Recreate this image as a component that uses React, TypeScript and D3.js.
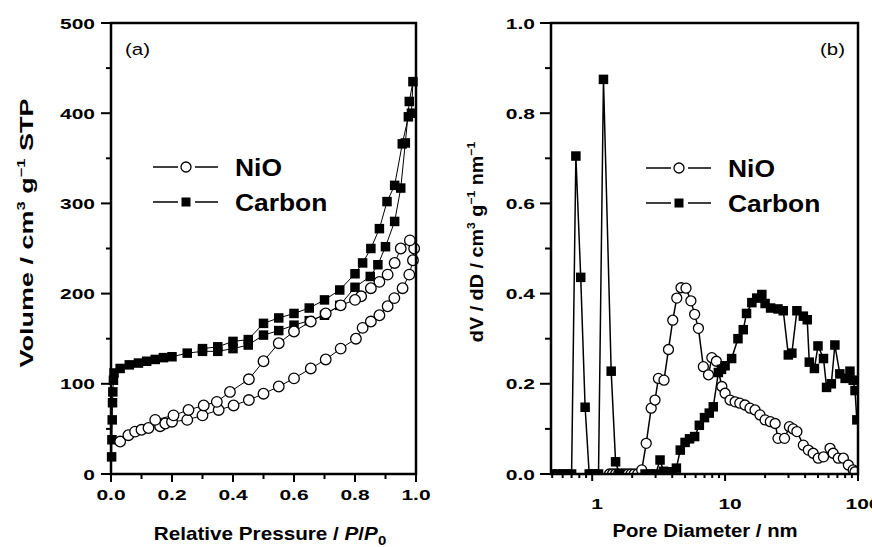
import React from "react";
import * as d3 from "d3";

type Pt = [number, number];

// (a) N2 isotherms: [P/P0, volume]
const nioAdsorption: Pt[] = [
  [0.03, 36], [0.057, 43], [0.079, 47], [0.1, 49], [0.123, 51], [0.161, 53], [0.178, 56],
  [0.2, 58], [0.25, 60], [0.3, 65], [0.353, 71], [0.402, 76], [0.452, 82], [0.5, 89],
  [0.55, 97], [0.6, 106], [0.655, 117], [0.704, 127], [0.753, 139], [0.803, 150],
  [0.825, 162], [0.852, 169], [0.88, 176], [0.907, 186], [0.929, 195], [0.956, 206],
  [0.978, 221], [0.99, 237], [0.994, 250], [0.98, 259],
];
const nioDesorption: Pt[] = [
  [0.95, 250], [0.93, 234], [0.907, 221], [0.88, 213], [0.852, 206], [0.82, 197],
  [0.8, 193], [0.753, 187], [0.704, 178], [0.655, 169], [0.6, 158], [0.55, 145],
  [0.5, 125], [0.452, 105], [0.39, 91], [0.347, 80], [0.304, 76], [0.254, 71],
  [0.205, 65], [0.145, 60],
];
const carbonAdsorption: Pt[] = [
  [0.002, 19], [0.003, 38], [0.004, 60], [0.005, 79], [0.006, 91], [0.008, 104],
  [0.01, 112], [0.03, 117], [0.06, 121], [0.09, 123], [0.117, 125], [0.145, 127],
  [0.172, 129], [0.2, 130], [0.25, 134], [0.3, 136], [0.35, 136], [0.4, 139],
  [0.45, 143], [0.5, 154], [0.55, 159], [0.6, 165], [0.65, 170], [0.7, 176],
  [0.75, 187], [0.8, 207], [0.85, 219], [0.875, 232], [0.9, 252], [0.93, 280],
  [0.95, 317], [0.965, 367], [0.978, 413], [0.99, 435],
];
const carbonDesorption: Pt[] = [
  [0.985, 400], [0.975, 396], [0.955, 366], [0.93, 320], [0.905, 302], [0.88, 272],
  [0.852, 250], [0.825, 234], [0.8, 222], [0.75, 204], [0.7, 193], [0.65, 184],
  [0.6, 178], [0.55, 173], [0.5, 167], [0.45, 149], [0.4, 147], [0.35, 141], [0.3, 139],
];

// (b) pore size distribution: [diameter nm, dV/dD]
const nioPsd: Pt[] = [
  [1.35, 0], [1.42, 0], [1.5, 0], [1.58, 0], [1.67, 0], [1.76, 0], [1.86, 0], [1.96, 0],
  [2.07, 0], [2.2, 0], [2.36, 0.009], [2.55, 0.068], [2.78, 0.146], [2.97, 0.164],
  [3.15, 0.212], [3.47, 0.208], [3.75, 0.276], [4.04, 0.341], [4.33, 0.39], [4.66, 0.413],
  [5.08, 0.412], [5.53, 0.384], [5.9, 0.354], [6.3, 0.323], [6.86, 0.238], [7.5, 0.22],
  [7.95, 0.258], [8.6, 0.25], [9.45, 0.194], [10, 0.179], [10.9, 0.164], [11.9, 0.16],
  [12.9, 0.157], [14.1, 0.153], [15.4, 0.146], [16.8, 0.142], [18.3, 0.131], [20, 0.12],
  [21.9, 0.116], [23.8, 0.112], [25, 0.079], [28, 0.079], [30.5, 0.105], [32.5, 0.1],
  [34.7, 0.094], [38.8, 0.064], [42.3, 0.053], [46, 0.046], [50.2, 0.035], [55, 0.038],
  [61.6, 0.057], [65, 0.046], [71, 0.035], [77.6, 0.035], [84.6, 0.02], [92, 0.009],
  [95, 0.005],
];
const carbonPsd: Pt[] = [
  [0.5, 0], [0.55, 0], [0.6, 0], [0.65, 0], [0.7, 0], [0.754, 0.705], [0.82, 0.436],
  [0.885, 0.148], [0.95, 0], [1.0, 0], [1.05, 0], [1.116, 0], [1.216, 0.875],
  [1.39, 0.228], [1.5, 0.027], [1.6, 0], [2.5, 0], [2.75, 0], [3.0, 0], [3.24, 0.031],
  [3.44, 0.006], [3.7, 0.004], [4.0, 0.005], [4.3, 0.013], [4.6, 0.053], [5.0, 0.07],
  [5.4, 0.078], [5.9, 0.083], [6.4, 0.108], [7.0, 0.125], [7.6, 0.135], [8.15, 0.149],
  [8.9, 0.225], [9.4, 0.232], [10, 0.24], [11.2, 0.256], [12.5, 0.3], [13.7, 0.32],
  [14.5, 0.356], [15.9, 0.38], [17.3, 0.39], [18.9, 0.398], [20, 0.378], [22, 0.368],
  [25, 0.366], [27.4, 0.362], [29.9, 0.264], [31.8, 0.268], [34.7, 0.362], [38.8, 0.35],
  [41.5, 0.342], [43, 0.248], [47, 0.234], [50, 0.284], [55, 0.256], [58, 0.192],
  [63, 0.2], [67, 0.286], [73, 0.222], [80, 0.212], [87, 0.228], [92, 0.208],
  [95, 0.185], [98, 0.12],
];

const leftXMajor = [0, 0.2, 0.4, 0.6, 0.8, 1.0];
const leftXMinor = [0.1, 0.3, 0.5, 0.7, 0.9];
const leftYMajor = [0, 100, 200, 300, 400, 500];
const leftYMinor = [50, 150, 250, 350, 450];
const rightXMajor = [1, 10, 100];
const rightXMinor = [0.5, 0.6, 0.7, 0.8, 0.9, 2, 3, 4, 5, 6, 7, 8, 9, 20, 30, 40, 50, 60, 70, 80, 90];
const rightYMajor = [0, 0.2, 0.4, 0.6, 0.8, 1.0];
const rightYMinor = [0.1, 0.3, 0.5, 0.7, 0.9];
const seriesNames = ["NiO", "Carbon"];

const FONT = "'Liberation Sans', Arial, Helvetica, sans-serif";

function Square({ x, y, s }: { x: number; y: number; s: number }) {
  return <rect x={x - s / 2} y={y - s / 2} width={s} height={s} fill="#000" />;
}

function Circle({ x, y, r }: { x: number; y: number; r: number }) {
  return <circle cx={x} cy={y} r={r} fill="#fff" stroke="#000" strokeWidth={1.3} />;
}

function TickLabel({ x, y, text, anchor }: { x: number; y: number; text: string; anchor: string }) {
  return (
    <text transform={`translate(${x},${y}) scale(1.4,1)`} textAnchor={anchor}
      fontSize={15} fontWeight="bold">{text}</text>
  );
}

function Legend({ x, y }: { x: number; y: number }) {
  // x = left end of symbol line, y = row of NiO
  return (
    <g>
      {seriesNames.map((name, i) => {
        const cy = y + i * 35;
        return (
          <g key={name}>
            <line x1={x} x2={x + 25} y1={cy} y2={cy} stroke="#000" strokeWidth={1.5} />
            <line x1={x + 42} x2={x + 65} y1={cy} y2={cy} stroke="#000" strokeWidth={1.5} />
            {i === 0 ? <Circle x={x + 33} y={cy} r={5} /> : <Square x={x + 33} y={cy} s={9} />}
            <text transform={`translate(${x + 82},${cy + 9}) scale(1.1,1)`} fontSize={24} fontWeight="bold">{name}</text>
          </g>
        );
      })}
    </g>
  );
}

export default function App() {
  const xA = d3.scaleLinear().domain([0, 1]).range([111, 416]);
  const yA = d3.scaleLinear().domain([0, 500]).range([474, 23]);
  const xB = d3.scaleLog().domain([0.49, 100]).range([551, 858]);
  const yB = d3.scaleLinear().domain([0, 1]).range([474, 23]);

  const lineA = d3.line<Pt>().x(d => xA(d[0])).y(d => yA(d[1]));
  const lineB = d3.line<Pt>().x(d => xB(d[0])).y(d => yB(d[1]));

  const carbonA = [...carbonAdsorption, ...carbonDesorption];
  const nioA = [...nioAdsorption, ...nioDesorption];

  return (
    <svg width={872} height={547} style={{ position: "fixed", left: 0, top: 0, background: "#fff" }}
      fontFamily={FONT} fill="#000">
      <defs>
        <clipPath id="clipB">
          <rect x={551} y={23} width={307} height={451} />
        </clipPath>
      </defs>

      {/* ---- panel (a) ---- */}
      <path d={lineA(carbonA) ?? ""} fill="none" stroke="#000" strokeWidth={1} />
      {carbonA.map((d, i) => <Square key={"ca" + i} x={xA(d[0])} y={yA(d[1])} s={9.5} />)}
      <path d={lineA(nioA) ?? ""} fill="none" stroke="#000" strokeWidth={1} />
      {nioA.map((d, i) => <Circle key={"na" + i} x={xA(d[0])} y={yA(d[1])} r={5.3} />)}

      <rect x={111} y={23} width={305} height={451} fill="none" stroke="#000" strokeWidth={2.5} />
      {leftYMajor.map(v => (
        <g key={"lym" + v}>
          <line x1={101} x2={111} y1={yA(v)} y2={yA(v)} stroke="#000" strokeWidth={2} />
          <TickLabel x={95} y={yA(v) + 5.5} text={String(v)} anchor="end" />
        </g>
      ))}
      {leftYMinor.map(v => (
        <line key={"lyn" + v} x1={106} x2={111} y1={yA(v)} y2={yA(v)} stroke="#000" strokeWidth={2} />
      ))}
      {leftXMajor.map(v => (
        <g key={"lxm" + v}>
          <line x1={xA(v)} x2={xA(v)} y1={474} y2={482} stroke="#000" strokeWidth={2} />
          <TickLabel x={xA(v)} y={500} text={v.toFixed(1)} anchor="middle" />
        </g>
      ))}
      {leftXMinor.map(v => (
        <line key={"lxn" + v} x1={xA(v)} x2={xA(v)} y1={474} y2={479} stroke="#000" strokeWidth={2} />
      ))}
      <text transform="translate(125,55) scale(1.2,1)" fontSize={17}>(a)</text>
      <Legend x={153} y={167} />

      <text transform="translate(270,540) scale(1.15,1)" textAnchor="middle" fontSize={18} fontWeight="bold">
        Relative Pressure / <tspan fontStyle="italic">P</tspan>/<tspan fontStyle="italic">P</tspan>
        <tspan fontSize={13} dy={5}>0</tspan>
      </text>
      <text transform="translate(33,233) rotate(-90) scale(1.5,1)" textAnchor="middle" fontSize={18} fontWeight="bold">
        Volume / cm<tspan fontSize={11} dy={-8}>3</tspan>
        <tspan dy={8}> g</tspan><tspan fontSize={11} dy={-8}>−1</tspan>
        <tspan dy={8}> STP</tspan>
      </text>

      {/* ---- panel (b) ---- */}
      <g clipPath="url(#clipB)">
        <path d={lineB(nioPsd) ?? ""} fill="none" stroke="#000" strokeWidth={1.5} />
        {nioPsd.map((d, i) => <Circle key={"nb" + i} x={xB(d[0])} y={yB(d[1])} r={5} />)}
        <path d={lineB(carbonPsd) ?? ""} fill="none" stroke="#000" strokeWidth={1.5} />
        {carbonPsd.map((d, i) => <Square key={"cb" + i} x={xB(d[0])} y={yB(d[1])} s={9.5} />)}
      </g>

      <rect x={551} y={23} width={307} height={451} fill="none" stroke="#000" strokeWidth={2.5} />
      {rightYMajor.map(v => (
        <g key={"rym" + v}>
          <line x1={540} x2={551} y1={yB(v)} y2={yB(v)} stroke="#000" strokeWidth={2} />
          <TickLabel x={535} y={yB(v) + 5.5} text={v.toFixed(1)} anchor="end" />
        </g>
      ))}
      {rightYMinor.map(v => (
        <line key={"ryn" + v} x1={545} x2={551} y1={yB(v)} y2={yB(v)} stroke="#000" strokeWidth={2} />
      ))}
      {rightXMajor.map(v => (
        <g key={"rxm" + v}>
          <line x1={xB(v)} x2={xB(v)} y1={474} y2={481} stroke="#000" strokeWidth={2} />
          <TickLabel x={xB(v) + 5} y={509} text={String(v)} anchor="middle" />
        </g>
      ))}
      {rightXMinor.map(v => (
        <line key={"rxn" + v} x1={xB(v)} x2={xB(v)} y1={474} y2={478} stroke="#000" strokeWidth={2} />
      ))}
      <text transform="translate(820,55) scale(1.2,1)" fontSize={17}>(b)</text>
      <Legend x={646} y={168} />

      <text transform="translate(705,537) scale(1.13,1)" textAnchor="middle" fontSize={18} fontWeight="bold">
        Pore Diameter / nm
      </text>
      <text transform="translate(483,242) rotate(-90) scale(1.1,1)" textAnchor="middle" fontSize={18} fontWeight="bold">
        dV / dD / cm<tspan fontSize={11} dy={-8}>3</tspan>
        <tspan dy={8}> g</tspan><tspan fontSize={11} dy={-8}>−1</tspan>
        <tspan dy={8}> nm</tspan><tspan fontSize={11} dy={-8}>−1</tspan>
      </text>
    </svg>
  );
}
